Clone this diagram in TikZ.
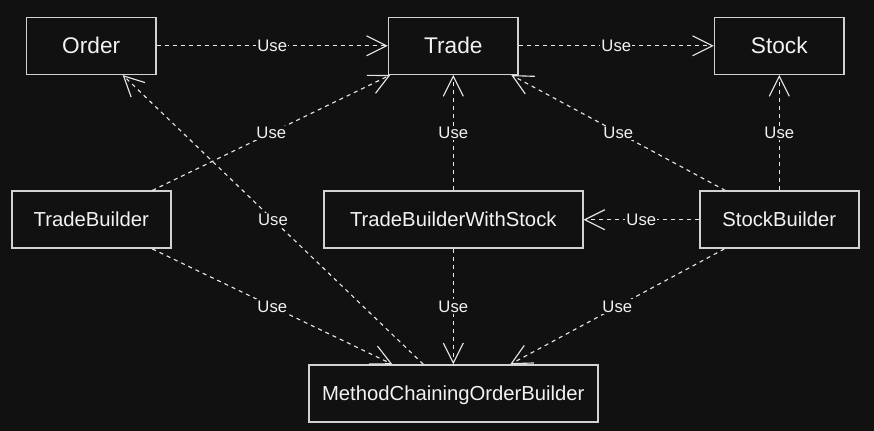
\documentclass[tikz,border=0pt]{standalone}
\usepackage{fontspec}
\setmainfont{Liberation Sans}
\usetikzlibrary{arrows.meta,calc}
\definecolor{bg}{HTML}{111111}
\definecolor{boxline}{HTML}{D2D2D2}
\definecolor{edgeline}{HTML}{E6E6E6}
\definecolor{txt}{HTML}{F2F2F2}
\begin{document}
\begin{tikzpicture}[x=0.75pt,y=-0.75pt,
  cls/.style={draw=boxline, line width=1.1pt, fill=bg, text=txt, inner sep=0pt, minimum height=42.75pt, text depth=0pt},
  big/.style={font=\fontsize{17}{20}\selectfont, text height=12.2pt},
  mid/.style={font=\fontsize{15.2}{18}\selectfont, text height=10.9pt},
  use/.style={draw=edgeline, line width=0.85pt, dash pattern=on 3pt off 3pt, -{Straight Barb[length=15pt,width=15pt]}},
  lbl/.style={fill=bg, text=txt, inner sep=1pt, font=\fontsize{12.5}{14}\selectfont}]
\fill[bg] (0,0) rectangle (874,431);
\useasboundingbox (0,0) rectangle (874,431);

\node[cls,big,minimum width=97.1pt] (order) at (91.2,45.8) {Order};
\node[cls,big,minimum width=97.1pt] (trade) at (453.3,45.8) {Trade};
\node[cls,big,minimum width=97.1pt] (stock) at (779.3,45.8) {Stock};
\node[cls,mid,minimum width=119.3pt] (tb) at (91.3,219.7) {TradeBuilder};
\node[cls,mid,minimum width=194.3pt] (tbws) at (453.3,219.7) {TradeBuilderWithStock};
\node[cls,mid,minimum width=119.3pt] (sb) at (779.3,219.7) {StockBuilder};
\node[cls,mid,minimum width=216.8pt] (mcob) at (453.3,393.5) {MethodChainingOrderBuilder};

\draw[use] (order) -- node[lbl]{Use} (trade);
\draw[use] (trade) -- node[lbl]{Use} (stock);
\draw[use] ($(tb.north)+(61,0)$) -- node[lbl]{Use} ($(trade.south)+(-63,0)$);
\draw[use] ($(mcob.north)+(-30,0)$) -- node[lbl]{Use} ($(order.south)+(31.5,0)$);
\draw[use] (tbws) -- node[lbl]{Use} (trade);
\draw[use] ($(sb.north)+(-54,0)$) -- node[lbl]{Use} ($(trade.south)+(58,0)$);
\draw[use] (sb) -- node[lbl]{Use} (stock);
\draw[use] (sb) -- node[lbl]{Use} (tbws);
\draw[use] ($(tb.south)+(61,0)$) -- node[lbl]{Use} ($(mcob.north)+(-61,0)$);
\draw[use] (tbws) -- node[lbl]{Use} (mcob);
\draw[use] ($(sb.south)+(-55,0)$) -- node[lbl]{Use} ($(mcob.north)+(57,0)$);
\end{tikzpicture}
\end{document}
